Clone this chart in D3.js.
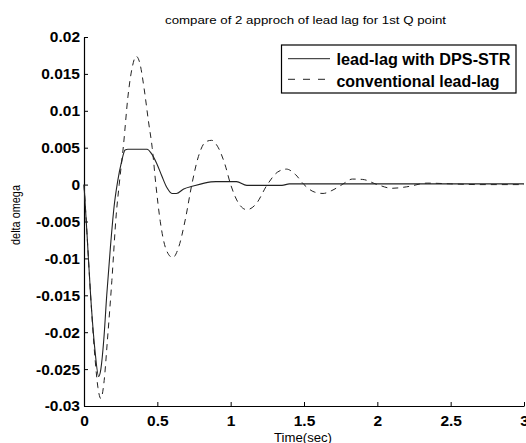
<!DOCTYPE html>
<html>
<head>
<meta charset="utf-8">
<script src="https://cdn.jsdelivr.net/npm/d3@7"></script>
<style>
  body { margin: 0; background: #fff; }
  #chart { width: 526px; height: 443px; }
  text { font-family: Arial, "Liberation Sans", sans-serif; }
</style>
</head>
<body>
<div id="chart"></div>
<script>
// Data
const titleText = 'compare of 2 approch of lead lag for 1st Q point';
const xLabel = 'Time(sec)';
const yLabel = 'delta omega';
const seriesNames = ['lead-lag with DPS-STR', 'conventional lead-lag'];

const xTicks = [0, 0.5, 1, 1.5, 2, 2.5, 3];
const yTicks = [0.02, 0.015, 0.01, 0.005, 0, -0.005, -0.01, -0.015, -0.02, -0.025, -0.03];

const timeSolid = [0, 0.02, 0.045, 0.075, 0.1, 0.115, 0.135, 0.155, 0.18, 0.205, 0.23, 0.255, 0.28, 0.3, 0.43, 0.46, 0.495, 0.53, 0.565, 0.6, 0.63, 0.68, 0.745, 0.82, 0.9, 1.04, 1.11, 1.35, 1.4, 3.0];
const valSolid = [0, -0.0065, -0.015, -0.0225, -0.026, -0.025, -0.021, -0.015, -0.0085, -0.003, 0.0005, 0.003, 0.0047, 0.0048, 0.0048, 0.0042, 0.0029, 0.0012, -0.0004, -0.0012, -0.0012, -0.0006, -0.0002, 0.0002, 0.0004, 0.0004, -0.0001, -0.0001, 0.0001, 0.0001];

const timeDashed = [0, 0.02, 0.045, 0.075, 0.095, 0.115, 0.135, 0.16, 0.19, 0.22, 0.24, 0.27, 0.3, 0.33, 0.355, 0.38, 0.41, 0.44, 0.465, 0.49, 0.52, 0.56, 0.605, 0.645, 0.69, 0.735, 0.78, 0.83, 0.87, 0.91, 0.96, 1.0, 1.05, 1.11, 1.17, 1.25, 1.32, 1.38, 1.44, 1.5, 1.57, 1.63, 1.69, 1.76, 1.83, 1.9, 2.0, 2.1, 2.2, 2.34, 2.5, 2.7, 3.0];
const valDashed = [0, -0.0065, -0.015, -0.0235, -0.0275, -0.029, -0.027, -0.021, -0.013, -0.004, 0, 0.0055, 0.012, 0.016, 0.0174, 0.0165, 0.013, 0.0085, 0.005, 0, -0.005, -0.0088, -0.0099, -0.0085, -0.0048, 0, 0.0038, 0.0058, 0.006, 0.0052, 0.0028, 0, -0.0024, -0.0034, -0.0027, 0, 0.0017, 0.0021, 0.0014, 0, -0.001, -0.0012, -0.0008, 0, 0.00075, 0.0007, 0, -0.0005, -0.0003, 0.0002, 0.0001, 0, 0];

const margin = { top: 37, right: 2, bottom: 37, left: 84 };
const W = 526, H = 443;
const width = W - margin.left - margin.right;
const height = H - margin.top - margin.bottom;

const svg = d3.select('#chart')
    .append('svg')
    .attr('width', W)
    .attr('height', H);

const g = svg.append('g')
    .attr('transform', `translate(${margin.left},${margin.top})`);

// Scales
const x = d3.scaleLinear().domain([0, 3]).range([0, width]);
const y = d3.scaleLinear().domain([-0.03, 0.02]).range([height, 0]);

// Axes (ticks pointing inward, MATLAB style)
const xAxis = g.append('g')
    .attr('transform', `translate(0,${height})`)
    .call(d3.axisBottom(x)
        .tickValues(xTicks)
        .tickFormat(d3.format('~g'))
        .tickSizeInner(-4)
        .tickSizeOuter(0)
        .tickPadding(9));

const yAxis = g.append('g')
    .call(d3.axisLeft(y)
        .tickValues(yTicks)
        .tickFormat(d => d === 0 ? '0' : d3.format('~g')(d).replace('−', '-'))
        .tickSizeInner(-4)
        .tickSizeOuter(0)
        .tickPadding(4));

[xAxis, yAxis].forEach(ax => {
    ax.select('.domain').attr('stroke', '#000').attr('stroke-width', 1.2);
    ax.selectAll('.tick line').attr('stroke', '#000');
    ax.selectAll('.tick text')
        .attr('fill', '#000')
        .style('font-size', '15.5px')
        .style('font-weight', 'bold')
        .style('font-family', 'Arial, "Liberation Sans", sans-serif');
});

// Lines
const line = d3.line()
    .x(d => x(d[0]))
    .y(d => y(d[1]))
    .curve(d3.curveMonotoneX);

const solidData = timeSolid.map((t, i) => [t, valSolid[i]]);
const dashedData = timeDashed.map((t, i) => [t, valDashed[i]]);

g.append('path')
    .datum(dashedData)
    .attr('fill', 'none')
    .attr('stroke', '#222')
    .attr('stroke-width', 1)
    .attr('stroke-dasharray', '6,5')
    .attr('d', line);

g.append('path')
    .datum(solidData)
    .attr('fill', 'none')
    .attr('stroke', '#222')
    .attr('stroke-width', 1.1)
    .attr('d', line);

// Title and axis labels
svg.append('text')
    .attr('x', 305.5)
    .attr('y', 24)
    .attr('text-anchor', 'middle')
    .attr('textLength', 281)
    .attr('lengthAdjust', 'spacingAndGlyphs')
    .style('font-size', '11.5px')
    .text(titleText);

svg.append('text')
    .attr('x', 303)
    .attr('y', 442)
    .attr('text-anchor', 'middle')
    .attr('textLength', 58)
    .attr('lengthAdjust', 'spacingAndGlyphs')
    .style('font-size', '12px')
    .text(xLabel);

svg.append('text')
    .attr('transform', 'translate(20,215) rotate(-90)')
    .attr('text-anchor', 'middle')
    .attr('textLength', 60)
    .attr('lengthAdjust', 'spacingAndGlyphs')
    .style('font-size', '12px')
    .text(yLabel);

// Legend
const legend = svg.append('g');
legend.append('rect')
    .attr('x', 281.5)
    .attr('y', 45)
    .attr('width', 234.5)
    .attr('height', 48)
    .attr('fill', '#fff')
    .attr('stroke', '#000')
    .attr('stroke-width', 1.2);

const legendRows = [
    { name: seriesNames[0], dash: null, y: 58.7, ty: 65, len: 174 },
    { name: seriesNames[1], dash: '7,8', y: 79.3, ty: 86.5, len: 163 }
];

legendRows.forEach(r => {
    legend.append('line')
        .attr('x1', 288).attr('x2', 330)
        .attr('y1', r.y).attr('y2', r.y)
        .attr('stroke', '#222')
        .attr('stroke-width', 1)
        .attr('stroke-dasharray', r.dash);
    legend.append('text')
        .attr('x', 336.5)
        .attr('y', r.ty)
        .attr('textLength', r.len)
        .attr('lengthAdjust', 'spacingAndGlyphs')
        .style('font-size', '16px')
        .style('font-weight', 'bold')
        .text(r.name);
});
</script>
</body>
</html>
